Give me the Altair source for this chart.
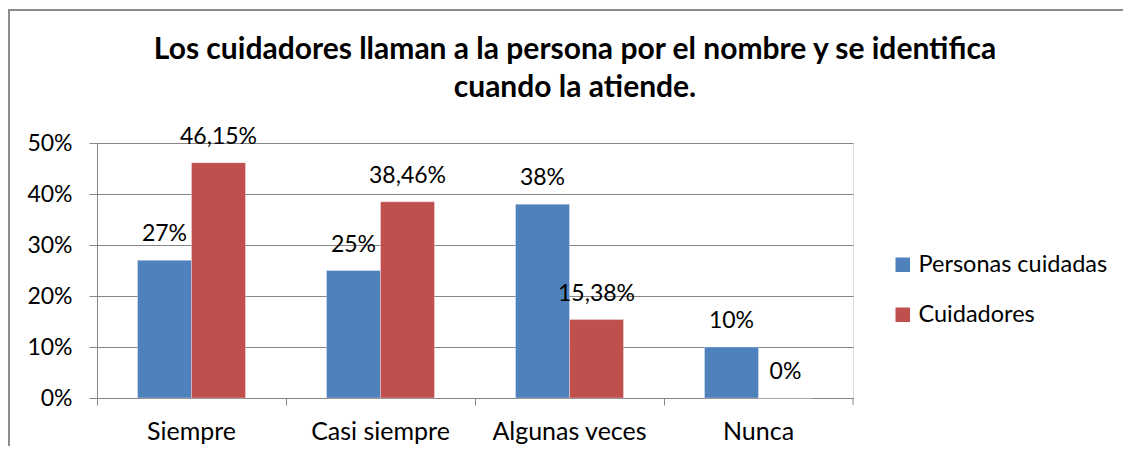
import altair as alt
import pandas as pd

categorias = ["Siempre", "Casi siempre", "Algunas veces", "Nunca"]
series = ["Personas cuidadas", "Cuidadores"]
personas = [0.27, 0.25, 0.38, 0.10]
cuidadores = [0.4615, 0.3846, 0.1538, 0.0]
etiquetas_personas = ["27%", "25%", "38%", "10%"]
etiquetas_cuidadores = ["46,15%", "38,46%", "15,38%", "0%"]
colores = ["#4F81BD", "#C0504D"]
titulo = ["Los cuidadores llaman a la persona por el nombre y se identifica", "cuando la atiende."]

rows = []
for i, c in enumerate(categorias):
    rows.append({"cat": c, "serie": series[0], "valor": personas[i], "etq": etiquetas_personas[i]})
    rows.append({"cat": c, "serie": series[1], "valor": cuidadores[i], "etq": etiquetas_cuidadores[i]})
df = pd.DataFrame(rows)

FONT = "Lato"
W, H = 756, 255

x = alt.X("cat:N", sort=categorias, title=None,
          scale=alt.Scale(paddingInner=0, paddingOuter=0),
          axis=alt.Axis(bandPosition=0, labelAngle=0, labelFontSize=25, labelFont=FONT,
                        labelColor="black", tickSize=7, tickColor="#868686",
                        domainColor="#868686", labelPadding=14, grid=False,
                        labelBaseline="top"))
xo = alt.XOffset("serie:N", sort=series,
                 scale=alt.Scale(paddingInner=0, paddingOuter=0.75))
y = alt.Y("valor:Q", title=None,
          scale=alt.Scale(domain=[0, 0.5], nice=False),
          axis=alt.Axis(values=[0, 0.1, 0.2, 0.3, 0.4, 0.5], format=".0%",
                        labelFontSize=23, labelFont=FONT, labelColor="black",
                        tickSize=8, tickColor="#868686", domainColor="#868686",
                        gridColor="#868686", labelPadding=17))
color = alt.Color("serie:N", sort=series,
                  scale=alt.Scale(domain=series, range=colores),
                  legend=alt.Legend(title=None, orient="none", legendX=794, legendY=110,
                                    symbolType="square", symbolSize=210,
                                    symbolStrokeWidth=0, labelLimit=400,
                                    labelFontSize=23.5, labelFont=FONT, labelColor="black",
                                    rowPadding=25, labelOffset=4))

bars = alt.Chart(df).mark_bar(stroke="white", strokeWidth=0.5, strokeOpacity=0.6).encode(
    x=x, xOffset=xo, y=y, color=color)

texts = alt.Chart(df).mark_text(baseline="alphabetic", dy=-19, fontSize=23, font=FONT,
                                color="black").encode(
    x=alt.X("cat:N", sort=categorias), xOffset=alt.XOffset("serie:N", sort=series),
    y="valor:Q", text="etq:N")

frame_df = pd.DataFrame({"k": [1]})
frame_left = alt.Chart(frame_df).mark_rule(color="#8c8c8c", strokeWidth=2).encode(
    x=alt.value(-88), y=alt.value(-134), y2=alt.value(400))
frame_top = alt.Chart(frame_df).mark_rule(color="#8c8c8c", strokeWidth=2).encode(
    y=alt.value(-133), x=alt.value(-89), x2=alt.value(1300))

endtick = alt.Chart(frame_df).mark_rule(color="#868686").encode(
    x=alt.value(W), y=alt.value(H), y2=alt.value(H + 7))

title_mark = alt.Chart(frame_df).mark_text(
    text=titulo, font=FONT, fontSize=30, fontWeight="bold", color="black",
    align="center", baseline="alphabetic", lineHeight=38).encode(
    x=alt.value(478), y=alt.value(-84))

chart = alt.layer(frame_left, frame_top, bars, texts, endtick, title_mark).properties(
    width=W, height=H,
    autosize=alt.AutoSizeParams(type="none"),
    padding={"left": 89, "top": 135, "right": 270, "bottom": 48},
).configure_view(stroke=None).configure(background="white")

chart.save("out.html", embed_options={"renderer": "svg", "actions": False})
